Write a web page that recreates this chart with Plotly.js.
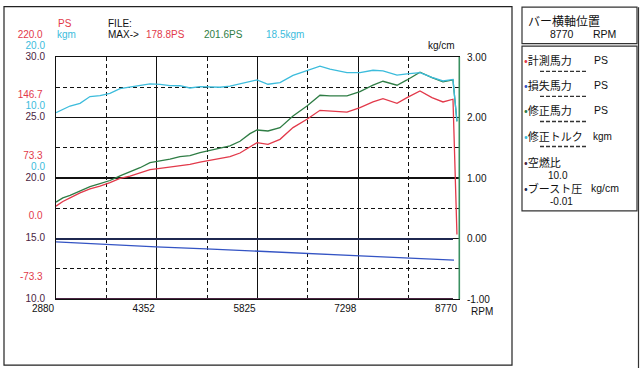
<!DOCTYPE html>
<html><head><meta charset="utf-8">
<script src="https://cdn.plot.ly/plotly-3.0.1.min.js"></script>
<style>html,body{margin:0;padding:0;background:#fff;} #chart{width:640px;height:368px;}</style>
</head><body><div id="chart"></div>
<script>
// ---- data ----
const rpm = [2880,2980,3085,3231,3377,3523,3669,3815,3962,4108,4254,4400,4546,4692,4838,4985,5131,5277,5423,5569,5715,5818,5978,6154,6344,6548,6738,6884,7133,7323,7513,7659,7864,8010,8200,8375,8536,8682,8740];
const measuredPS = [39.2,44.9,49.2,55.4,60.2,63.4,67.7,72.8,75.6,79.8,83.5,85.0,86.7,88.6,89.8,92.5,94.5,96.5,99.3,103.6,111.3,116.2,114.1,120.2,134.4,144.5,155.4,154.6,153.3,158.7,165.5,169.6,163.9,170.8,178.8,170.8,165.5,168.8,4.9];
const correctedPS = [44.1,49.3,52.2,57.4,62.9,66.5,70.3,75.9,81.0,85.8,92.0,94.1,96.2,99.3,100.5,104.2,106.8,109.4,112.3,117.9,127.1,131.5,130.3,134.4,148.5,160.6,173.6,172.8,172.8,178.1,185.8,190.6,185.8,192.2,201.6,195.1,189.8,192.2,142.0];
const torqueKgm = [10.81,11.32,11.90,12.35,13.46,13.63,13.99,14.78,15.07,15.33,15.56,15.48,15.26,15.25,14.88,15.11,15.00,15.00,15.17,15.60,15.99,16.22,15.50,15.78,16.97,17.70,18.50,17.98,17.43,17.43,17.81,17.70,16.99,17.20,17.43,16.65,16.04,16.29,9.37];
const lossRpm = [2880,3611,4342,5073,5804,6535,7265,7996,8697];
const lossPS = [-4.0,-7.3,-10.1,-12.5,-15.4,-18.2,-20.6,-23.4,-26.3];
const boostRpm = [2880,4352,5825,7298,8682];
const boostKg = [-0.01,-0.01,-0.01,-0.01,-0.01];
const afrRpm = [2880,4352,5825,7298,8682];
const afr = [10.0,10.0,10.0,10.0,10.0];

const rpmTicks = [2880,4352,5825,7298,8770];
const rpmMinor = [3616.25,5088.75,6561.25,8033.75];
const psTicks = [220,146.67,73.33,0,-73.33];
const psTickText = ['220.0','146.7','73.3','0.0','-73.3'];
const psMinor = [183.33,110,36.67,-36.67];
const kgmTicks = [20,10,0];
const kgmTickText = ['20.0','10.0','0.0'];
const afrTicks = [30,25,20,15,10];
const afrTickText = ['30.0','25.0','20.0','15.0','10.0'];
const boostTicks = [3,2,1,0,-1];
const boostTickText = ['3.00','2.00','1.00','0.00','-1.00'];

// ---- styles ----
const RED='#e2394a', GREEN='#2f7d45', CYAN='#3cbcdc', BLUE='#3454c4', NAVY='#1f2850', AFC='#4a2442', DARK='#111';
const NUM='Liberation Sans, Arial, sans-serif';
const JP='Noto Sans CJK JP, sans-serif';

const L=56, R=459, T=57.3, B=299;
const W=R-L, H=B-T;
const px = x => (x-L)/W, py = y => (B-y)/H;
function txt(x,y,text,color,size,anchor,family){
  return {xref:'paper',yref:'paper',x:px(x),y:py(y),text:text,showarrow:false,
    xanchor:anchor||'left',yanchor:'middle',borderpad:0,
    font:{family:family||NUM,size:size||10,color:color||DARK}};
}
function hline(x0,x1,y,color,w,dash){
  return {type:'line',xref:'paper',yref:'paper',x0:px(x0),x1:px(x1),y0:py(y),y1:py(y),line:{color:color,width:w,dash:dash||'solid'}};
}
function vline(x,y0,y1,color,w){
  return {type:'line',xref:'paper',yref:'paper',x0:px(x),x1:px(x),y0:py(y0),y1:py(y1),line:{color:color,width:w}};
}
function rect(x0,y0,x1,y1,color,w){
  return {type:'rect',xref:'paper',yref:'paper',x0:px(x0),x1:px(x1),y0:py(y1),y1:py(y0),line:{color:color,width:w},fillcolor:'rgba(0,0,0,0)'};
}

const traces = [
  {x:afrRpm,y:afr,yaxis:'y4',mode:'lines',line:{color:AFC,width:2}},
  {x:boostRpm,y:boostKg,yaxis:'y3',mode:'lines',line:{color:NAVY,width:2}},
  {x:lossRpm,y:lossPS,yaxis:'y',mode:'lines',line:{color:BLUE,width:1.3}},
  {x:rpm,y:measuredPS,yaxis:'y',mode:'lines',line:{color:RED,width:1.3}},
  {x:rpm,y:correctedPS,yaxis:'y',mode:'lines',line:{color:GREEN,width:1.3}},
  {x:rpm,y:torqueKgm,yaxis:'y2',mode:'lines',line:{color:CYAN,width:1.3}}
];

const leftAxis = (range,vals,text,color,shift) => ({
  range:range,tickvals:vals,ticktext:text,ticks:'',showgrid:false,zeroline:false,
  ticklabelshift:shift,ticklabelstandoff:10,tickfont:{family:NUM,size:10,color:color},fixedrange:true
});

const maxRed = Math.max(...measuredPS).toFixed(1);
const maxGreen = Math.max(...correctedPS).toFixed(1);
const maxTorque = Math.max(...torqueKgm).toFixed(1);
const barRpm = rpmTicks[rpmTicks.length-1];

const dashC='#333';
const layout = {
  width:640,height:368,margin:{l:L,r:640-R,t:T,b:368-B},
  paper_bgcolor:'#fff',plot_bgcolor:'#fff',showlegend:false,hovermode:false,
  xaxis:{range:[2880,8770],tickvals:rpmTicks,ticktext:rpmTicks.map(String),ticks:'',
    ticklabelshift:-13,tickfont:{family:NUM,size:10,color:DARK},
    showgrid:true,gridcolor:'#111',gridwidth:1.2,zeroline:false,
    minor:{tickvals:rpmMinor,showgrid:true,gridcolor:'#111',gridwidth:1.2,griddash:'4px,3px',ticks:''},
    showline:true,mirror:true,linecolor:'#111',linewidth:1.3},
  yaxis:Object.assign(leftAxis([-73.33,220],psTicks,psTickText,RED,-23),{
    showgrid:true,gridcolor:'#111',gridwidth:1.2,
    minor:{tickvals:psMinor,showgrid:true,gridcolor:'#111',gridwidth:1.2,griddash:'4px,3px',ticks:''},
    showline:true,mirror:true,linecolor:'#111',linewidth:1.3}),
  yaxis2:Object.assign(leftAxis([-20,20],kgmTicks,kgmTickText,CYAN,-12),{overlaying:'y',side:'left'}),
  yaxis4:Object.assign(leftAxis([10,30],afrTicks,afrTickText,AFC,-1),{overlaying:'y',side:'left'}),
  yaxis3:{range:[-1,3],tickvals:boostTicks,ticktext:boostTickText,overlaying:'y',side:'right',ticks:'',
    showgrid:false,zeroline:false,ticklabelstandoff:7,tickfont:{family:NUM,size:10,color:DARK}},
  shapes:[
    rect(4,7,512,365,'#222',1.2),
    rect(522,7.5,637,44,'#333',1.2),
    rect(522,46.5,637,211,'#333',1.2),
    vline(638.5,7.5,368,'#333',1.2),
    vline(459.3,57.3,299,'#3a9060',1.6),
    hline(540,587,71.7,dashC,1.3,'4px,2px'),
    hline(540,587,96.7,dashC,1.3,'4px,2px'),
    hline(540,587,121.7,dashC,1.3,'4px,2px'),
    hline(540,587,146.7,dashC,1.3,'4px,2px')
  ],
  annotations:[
    txt(57,24,'PS',RED,10),
    txt(56,35,'kgm',CYAN,10),
    txt(107,24,'FILE:',DARK,10),
    txt(107,35,'MAX->',DARK,10),
    txt(145,35,maxRed+'PS',RED,10),
    txt(203,35,maxGreen+'PS',GREEN,10),
    txt(265,35,maxTorque+'kgm',CYAN,10),
    txt(441,46,'kg/cm',DARK,10,'center'),
    txt(482,311,'RPM',DARK,10,'center'),
    txt(527,21,'バー横軸位置',DARK,12,'left',JP),
    txt(549,34,String(barRpm),DARK,10.5),
    txt(592,34,'RPM',DARK,10.5),
    txt(523,60,'<span style="color:'+RED+'">•</span>計測馬力',DARK,11,'left',JP),
    txt(593,60,'PS',DARK,10.5),
    txt(523,85,'<span style="color:'+BLUE+'">•</span>損失馬力',DARK,11,'left',JP),
    txt(593,85,'PS',DARK,10.5),
    txt(523,110,'<span style="color:'+GREEN+'">•</span>修正馬力',DARK,11,'left',JP),
    txt(593,110,'PS',DARK,10.5),
    txt(523,136.5,'<span style="color:'+CYAN+'">•</span>修正トルク',DARK,11,'left',JP),
    txt(592,136.5,'kgm',DARK,10),
    txt(523,162.5,'<span style="color:'+AFC+'">•</span>空燃比',DARK,11,'left',JP),
    txt(547,176,afr[afr.length-1].toFixed(1),DARK,10),
    txt(523,188,'<span style="color:'+NAVY+'">•</span>ブースト圧',DARK,11,'left',JP),
    txt(590,188,'kg/cm',DARK,10.5),
    txt(549,201.5,boostKg[boostKg.length-1].toFixed(2),DARK,10)
  ]
};

Plotly.newPlot('chart',traces,layout,{staticPlot:true,displayModeBar:false});
</script>
</body></html>
